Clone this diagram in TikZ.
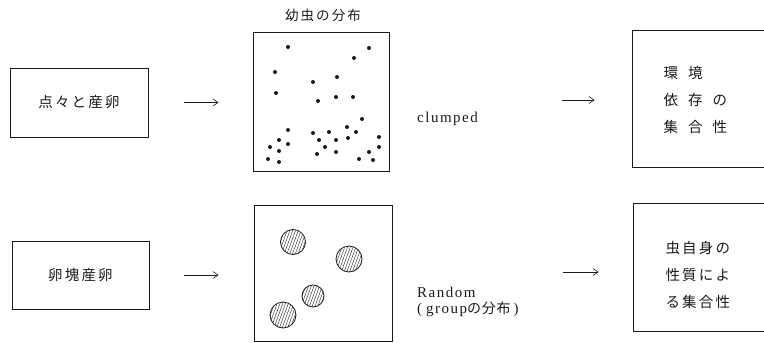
\documentclass[tikz,border=0pt]{standalone}
\usepackage{fontspec}
\newfontfamily\jp[LetterSpace=15]{Noto Sans CJK JP}
\newfontfamily\lat[LetterSpace=10]{Liberation Serif}
\usetikzlibrary{arrows.meta,positioning,patterns.meta}
\definecolor{ink}{HTML}{1A1A1A}

\begin{document}
\begin{tikzpicture}[x=1pt,y=-1pt,
  box/.style={draw=ink,line width=1pt,inner sep=0pt},
  flow/.style={-{Straight Barb[length=5pt,width=7pt]},ink,line width=0.6pt},
  jtext/.style={font=\jp\fontsize{14.5}{27}\selectfont,text=ink},
  ltext/.style={font=\lat\fontsize{15}{16.5}\selectfont,text=ink},
  blob/.style={draw=ink,line width=0.8pt,pattern={Lines[angle=70,distance=2.6pt,line width=0.4pt]},pattern color=ink}]
  \clip (0,0) rectangle (764,343);
  % left column
  \node[box,minimum width=138pt,minimum height=69pt,jtext] (egg1) at (79,102.5) {点々と産卵};
  \node[box,minimum width=137pt,minimum height=68pt,jtext] (egg2) at (80.5,275) {卵塊産卵};
  % distributions
  \node[jtext,font=\jp\fontsize{13.5}{16}\selectfont] (title) at (323,15) {幼虫の分布};
  \node[box,minimum width=136pt,minimum height=139pt] (dist1) at (321,101.5) {};
  \node[box,minimum width=138pt,minimum height=136pt] (dist2) at (323,273) {};
  \foreach \p in {(288,47),(369,48),(354,58),(275,72),(337,77),(313,82),(276,93),(336,97),(353,97),(318,101),
    (362,119),(288,130),(347,127),(313,133),(329,132),(356,132),(279,140),(319,140),(336,140),(348,138),
    (379,137),(270,147),(288,144),(325,147),(379,147),(279,151),(317,154),(336,152),(369,152),(268,159),
    (279,162),(359,159),(373,160)}
    \fill[ink] \p circle (2pt);
  \draw[blob] (293,242) circle (12.5pt);
  \draw[blob] (349,259) circle (13pt);
  \draw[blob] (313,296) circle (11pt);
  \draw[blob] (283,315) circle (13pt);
  % labels
  \node[ltext,anchor=west,inner sep=0pt] (clump) at (417,119) {clumped};
  \node[ltext,anchor=west,align=left,inner sep=0pt] (rand) at (417,302) {Random\\(\hspace{4pt}group{\jp\fontsize{14}{16}\selectfont\addfontfeature{LetterSpace=5}の分布}\hspace{3pt})};
  % results
  \node[box,minimum width=160pt,minimum height=137pt] (res1) at (712,98.5) {};
  \node[box,minimum width=160pt,minimum height=128pt] (res2) at (713,267) {};
  \node[jtext,align=left,anchor=west] (txt1) at (660,100) {環\hspace{10pt}境\\依\hspace{10pt}存\hspace{10pt}の\\集\hspace{10pt}合\hspace{10pt}性};
  \node[jtext,align=left,anchor=west] (txt2) at (662,275) {虫自身の\\性質によ\\る集合性};
  % arrows
  \draw[flow,shorten <=35pt,shorten >=34pt] (egg1.east) -- (egg1.east -| dist1.west);
  \draw[flow,shorten <=34pt,shorten >=35pt] (egg2.east) -- (egg2.east -| dist2.west);
  \coordinate (c1) at (562,100);
  \coordinate (c2) at (563,272);
  \draw[flow,shorten >=37pt] (c1) -- (c1 -| res1.west);
  \draw[flow,shorten >=34pt] (c2) -- (c2 -| res2.west);
\end{tikzpicture}
\end{document}
